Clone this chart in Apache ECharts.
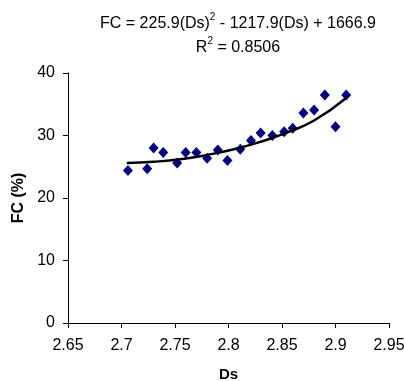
<!DOCTYPE html>
<html><head><meta charset="utf-8">
<script src="https://cdn.jsdelivr.net/npm/echarts@6/dist/echarts.min.js"></script>
<style>html,body{margin:0;padding:0;background:#fff}#c{width:404px;height:381px}</style>
</head><body><div id="c"></div>
<script>
const dsValues = [2.706, 2.724, 2.730, 2.739, 2.752, 2.760, 2.770, 2.780, 2.790, 2.799, 2.811, 2.821, 2.830, 2.841, 2.852, 2.860, 2.870, 2.880, 2.890, 2.900, 2.910];
const fcValues = [24.4, 24.7, 28.0, 27.3, 25.6, 27.3, 27.3, 26.35, 27.7, 26.0, 27.8, 29.2, 30.4, 30.0, 30.6, 31.15, 33.6, 34.1, 36.5, 31.4, 36.5];
const trendDs = [2.705, 2.73, 2.755, 2.78, 2.805, 2.83, 2.855, 2.88, 2.91];
const trendFc = [25.6, 25.8, 26.2, 26.9, 27.8, 29.0, 30.5, 32.4, 36.0];
const xTicks = [2.65, 2.7, 2.75, 2.8, 2.85, 2.9, 2.95];
const yTicks = [0, 10, 20, 30, 40];

const font = 'Liberation Sans, Arial, sans-serif';
const chart = echarts.init(document.getElementById('c'), null, {renderer: 'canvas'});
chart.setOption({
  animation: false,
  backgroundColor: '#fff',
  title: {
    text: '{a|FC = 225.9(Ds)}{s|2}{a| - 1217.9(Ds) + 1666.9}\n{a|R}{s|2}{a| = 0.8506}',
    left: 233, top: 7, textAlign: 'center',
    textStyle: {
      fontFamily: font, fontWeight: 'normal', color: '#000', lineHeight: 24,
      rich: {
        a: {fontSize: 16, fontFamily: font, color: '#000', lineHeight: 24},
        s: {fontSize: 10, fontFamily: font, color: '#000', lineHeight: 24, verticalAlign: 'top', padding: [0,0,8,0]}
      }
    }
  },
  grid: {left: 68, right: 15, top: 73, bottom: 58, containLabel: false, outerBoundsMode: 'none'},
  xAxis: {
    type: 'value', min: 2.65, max: 2.95, interval: 0.05,
    name: 'Ds', nameLocation: 'middle', nameGap: 44,
    nameTextStyle: {fontFamily: font, fontWeight: 'bold', fontSize: 15, color: '#000'},
    axisLine: {show: true, lineStyle: {color: '#000', width: 1}},
    axisTick: {show: true, length: 5, inside: false, lineStyle: {color: '#000'}},
    axisLabel: {fontFamily: font, fontSize: 16, color: '#000', margin: 15, hideOverlap: false,
      formatter: v => { const t = xTicks.find(x => Math.abs(x - v) < 1e-6); return t === undefined ? '' : String(t); }},
    splitLine: {show: false}
  },
  yAxis: {
    type: 'value', min: 0, max: 40, interval: 10,
    name: 'FC (%)', nameLocation: 'middle', nameGap: 34, nameRotate: 90,
    nameTextStyle: {fontFamily: font, fontWeight: 'bold', fontSize: 16, color: '#000'},
    axisLine: {show: true, lineStyle: {color: '#000', width: 1}},
    axisTick: {show: true, length: 5, lineStyle: {color: '#000'}},
    axisLabel: {fontFamily: font, fontSize: 16, color: '#000', margin: 13,
      formatter: v => { const t = yTicks.find(y => Math.abs(y - v) < 1e-6); return t === undefined ? '' : String(t); }},
    splitLine: {show: false}
  },
  series: [
    {
      type: 'scatter', symbol: 'diamond', symbolSize: [10, 11],
      itemStyle: {color: '#000080', opacity: 1},
      data: dsValues.map((d, i) => [d, fcValues[i]]),
      z: 2
    },
    {
      type: 'line', smooth: true, showSymbol: false, symbol: 'none',
      lineStyle: {color: '#000', width: 2.5},
      data: trendDs.map((d, i) => [d, trendFc[i]]),
      z: 3
    }
  ]
});
</script></body></html>
